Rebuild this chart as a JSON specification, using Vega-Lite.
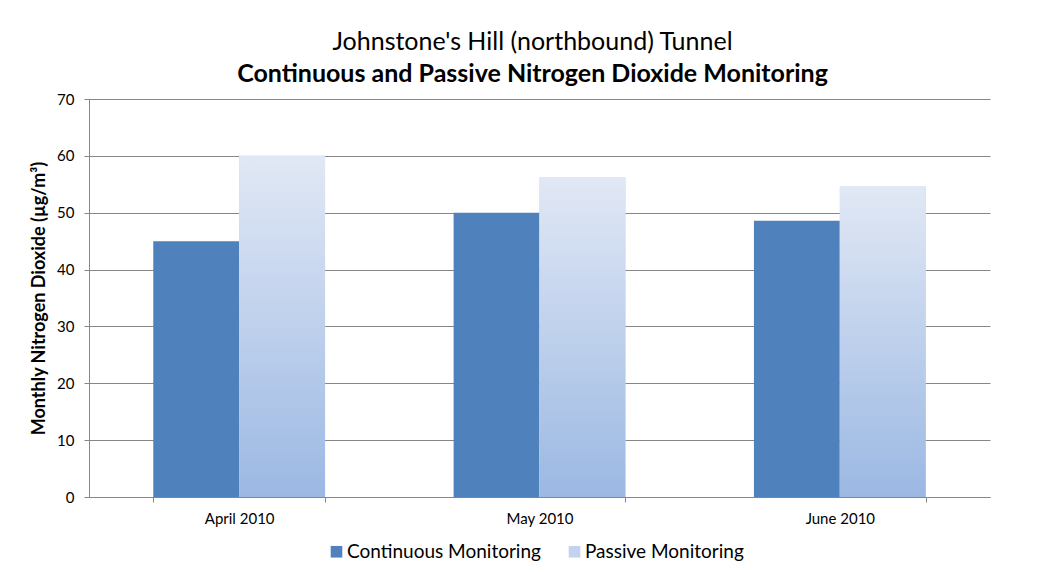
{
  "$schema": "https://vega.github.io/schema/vega-lite/v6.json",
  "autosize": "none",
  "width": 901,
  "height": 398,
  "padding": {"left": 89, "top": 99, "right": 52, "bottom": 76},
  "background": "white",
  "title": {
    "text": "Johnstone's Hill (northbound) Tunnel",
    "subtitle": "Continuous and Passive Nitrogen Dioxide Monitoring",
    "anchor": "middle",
    "dx": -7,
    "font": "Lato",
    "fontSize": 25,
    "fontWeight": "normal",
    "color": "#000000",
    "subtitleFont": "Lato",
    "subtitleFontSize": 25,
    "subtitleFontWeight": "bold",
    "subtitleColor": "#000000",
    "subtitlePadding": 7,
    "offset": 5
  },
  "data": {
    "values": [
      {"month": "April 2010", "series": "Continuous Monitoring", "value": 45},
      {"month": "April 2010", "series": "Passive Monitoring", "value": 60},
      {"month": "May 2010", "series": "Continuous Monitoring", "value": 50},
      {"month": "May 2010", "series": "Passive Monitoring", "value": 56.2},
      {"month": "June 2010", "series": "Continuous Monitoring", "value": 48.6},
      {"month": "June 2010", "series": "Passive Monitoring", "value": 54.6}
    ]
  },
  "encoding": {
    "x": {
      "field": "month",
      "type": "nominal",
      "sort": ["April 2010", "May 2010", "June 2010"],
      "scale": {"paddingInner": 0.428, "paddingOuter": 0.214},
      "axis": {
        "title": null,
        "labelAngle": 0,
        "labelFont": "Lato",
        "labelFontSize": 15,
        "labelColor": "#000000",
        "labelPadding": 9,
        "tickBand": "extent",
        "tickSize": 5,
        "tickColor": "#868686",
        "domainColor": "#868686",
        "grid": false
      }
    },
    "xOffset": {
      "field": "series",
      "type": "nominal",
      "sort": ["Continuous Monitoring", "Passive Monitoring"],
      "scale": {"domain": ["Continuous Monitoring", "Passive Monitoring"], "paddingInner": 0, "paddingOuter": 0}
    },
    "y": {
      "field": "value",
      "type": "quantitative",
      "scale": {"domain": [0, 70], "nice": false},
      "axis": {
        "values": [0, 10, 20, 30, 40, 50, 60, 70],
        "title": "Monthly Nitrogen Dioxide (µg/m³)",
        "titleFont": "Lato",
        "titleFontSize": 18,
        "titleFontWeight": "bold",
        "titleColor": "#000000",
        "titlePadding": 8,
        "labelFont": "Lato",
        "labelFontSize": 15,
        "labelColor": "#000000",
        "labelPadding": 10,
        "tickSize": 5,
        "tickColor": "#868686",
        "domainColor": "#868686",
        "gridColor": "#868686",
        "gridWidth": 1
      }
    }
  },
  "layer": [
    {
      "mark": {"type": "bar"},
      "encoding": {
        "color": {
          "field": "series",
          "type": "nominal",
          "sort": ["Continuous Monitoring", "Passive Monitoring"],
          "scale": {
            "domain": ["Continuous Monitoring", "Passive Monitoring"],
            "range": ["#4f81bd", "#c3d2ee"]
          },
          "legend": {
            "title": null,
            "orient": "none",
            "legendX": 238,
            "legendY": 443,
            "direction": "horizontal",
            "symbolType": "square",
            "symbolSize": 135,
            "symbolStrokeWidth": 0,
            "labelFont": "Lato",
            "labelFontSize": 19,
            "labelColor": "#000000",
            "labelOffset": 1,
            "columnPadding": 24,
            "labelLimit": 300
          }
        }
      }
    },
    {
      "transform": [{"filter": "datum.series === 'Passive Monitoring'"}],
      "mark": {
        "type": "bar",
        "color": {
          "gradient": "linear", "x1": 0, "y1": 0, "x2": 0, "y2": 1,
          "stops": [{"offset": 0, "color": "#e1e8f5"}, {"offset": 1, "color": "#9bb8e3"}]
        }
      }
    }
  ],
  "config": {
    "view": {"stroke": null},
    "bar": {"fillOpacity": 1}
  }
}
